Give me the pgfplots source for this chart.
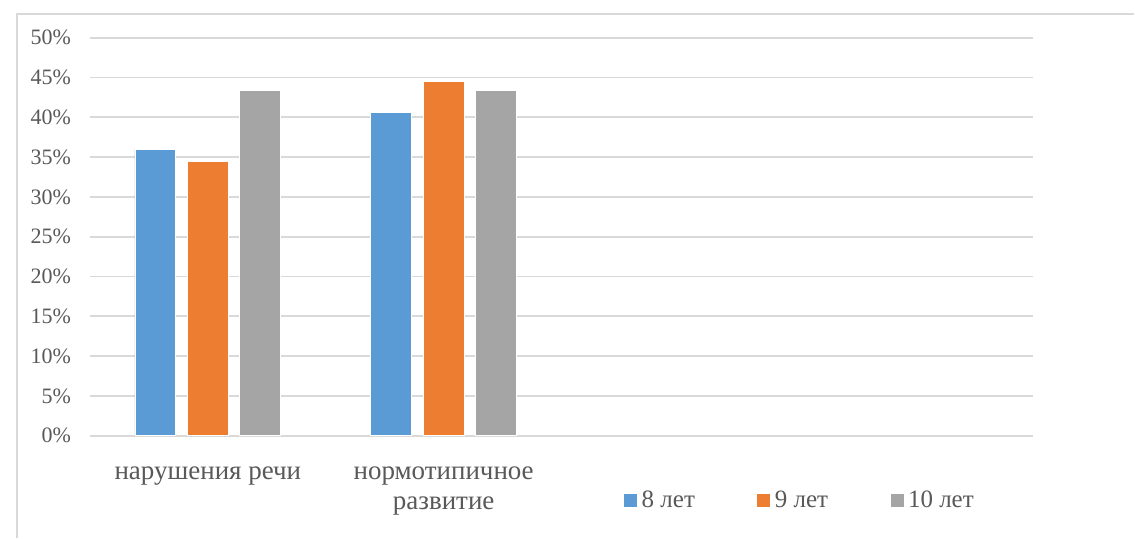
\documentclass[border=0pt]{standalone}
\usepackage{pgfplots}
\pgfplotsset{compat=1.18}
\usepackage{fontspec}
\setmainfont{Liberation Serif}

\definecolor{serA}{HTML}{5B9BD5}
\definecolor{serB}{HTML}{ED7D31}
\definecolor{serC}{HTML}{A5A5A5}
\definecolor{gridc}{HTML}{D9D9D9}
\definecolor{txt}{HTML}{595959}

% values in percent
\pgfplotstableread{
x  a     b     c
0  36.0  34.4  43.4
1  40.6  44.5  43.4
}\datatable

\begin{document}
\begin{tikzpicture}
% page frame: 1px of the reference = 0.5pt
\path[fill=white] (0pt,0pt) rectangle (567.5pt,269pt);
\draw[gridc, line width=0.8pt] (8.5pt,0pt) -- (8.5pt,262pt) -- (567.5pt,262pt);
\begin{axis}[
    at={(45pt,51pt)}, anchor=south west,
    scale only axis,
    width=472pt, height=199.15pt,
    ybar=5.75pt, bar width=20.5pt,
    xmin=-0.5, xmax=3.5,
    ymin=0, ymax=50,
    ytick={0,5,...,50},
    yticklabel={\pgfmathprintnumber{\tick}\%},
    xtick={0,1},
    xticklabels={нарушения речи, {нормотипичное\\развитие}},
    xticklabel style={align=center, yshift=-12pt, font=\fontsize{13.5}{15}\selectfont},
    yticklabel style={font=\fontsize{11}{13}\selectfont, xshift=-6pt},
    ticklabel style={text=txt},
    /pgf/number format/assume math mode=true,
    major tick length=0pt,
    axis line style={draw=none},
    ymajorgrids,
    grid style={gridc, line width=0.9pt},
    legend columns=3,
    legend style={draw=none, fill=none, at={(0.566,-0.163)}, anchor=west,
        inner sep=0pt, font=\fontsize{12.5}{14}\selectfont, text=txt,
        nodes={inner sep=2.25pt},
        /tikz/every even column/.append style={column sep=29pt}},
    legend image code/.code={\fill[#1, draw=none] (0pt,-3.25pt) rectangle (6.5pt,3.25pt);},
]
\addplot[fill=serA, draw=white, line width=0.4pt] table[x=x, y=a] {\datatable};
\addplot[fill=serB, draw=white, line width=0.4pt] table[x=x, y=b] {\datatable};
\addplot[fill=serC, draw=white, line width=0.4pt] table[x=x, y=c] {\datatable};
\legend{8 лет, 9 лет, 10 лет}
\end{axis}
\end{tikzpicture}
\end{document}
